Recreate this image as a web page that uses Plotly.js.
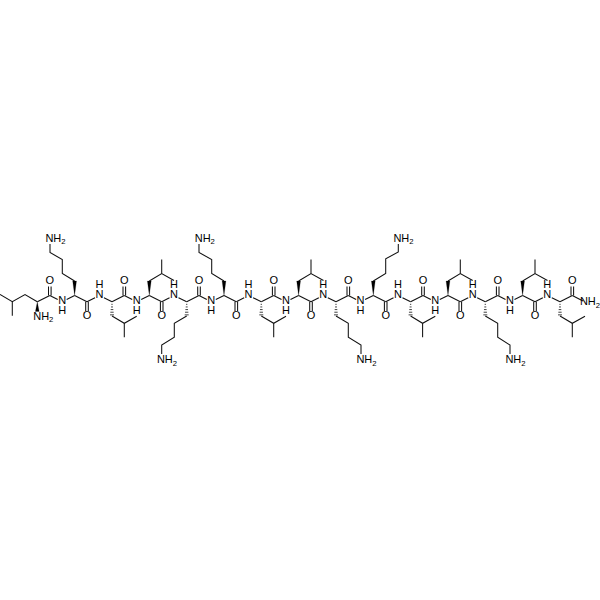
<!DOCTYPE html>
<html>
<head>
<meta charset="utf-8">
<script src="https://cdn.plot.ly/plotly-3.0.1.min.js"></script>
<style>html,body{margin:0;padding:0;background:#fff}</style>
</head>
<body>
<div id="chart" style="width:600px;height:600px"></div>
<script>
// Atom positions (image pixels).
const backboneX = [37.3,49.8,62.2,74.6,87,99.5,112,124.3,136.7,149.3,161.7,174,186.7,199,211.3,224,236.3,248.6,261.3,273.7,286,298.6,311,323.3,336,348.3,360.6,373.3,385.7,398,410.6,423,435.3,448,460.3,472.7,485.3,497.7,510,522.6,535,547.3,560,572.3,583];
const backboneY = [301.7,295.5,301.7,295.5,301.7,295.5,301.7,295.5,301.7,295.5,301.7,295.5,301.7,295.5,301.7,295.5,301.7,295.5,301.7,295.5,301.7,295.5,301.7,295.5,301.7,295.5,301.7,295.5,301.7,295.5,301.7,295.5,301.7,295.5,301.7,295.5,301.7,295.5,301.7,295.5,301.7,295.5,301.7,295.5,301];

const nitrogenX = [62.2,99.5,136.7,174,211.3,248.6,286,323.3,360.6,398,435.3,472.7,510,547.3];
const nitrogenY = [301.7,295.5,301.7,295.5,301.7,295.5,301.7,295.5,301.7,295.5,301.7,295.5,301.7,295.5];
const hydrogenY = [311,285.5,311,285.5,311,285.5,311,285.5,311,285.5,311,285.5,311,285.5];

const carbonylX  = [49.8,87,124.3,161.7,199,236.3,273.7,311,348.3,385.7,423,460.3,497.7,535,572.3];
const carbonylY  = [295.5,301.7,295.5,301.7,295.5,301.7,295.5,301.7,295.5,301.7,295.5,301.7,295.5,301.7,295.5];
const oxygenY    = [281,316.5,281,316.5,281,316.5,281,316.5,281,316.5,281,316.5,281,316.5,281];

const alphaX = [37.3,74.6,112,149.3,186.7,224,261.3,298.6,336,373.3,410.6,448,485.3,522.6,560];
const alphaY = [301.7,295.5,301.7,295.5,301.7,295.5,301.7,295.5,301.7,295.5,301.7,295.5,301.7,295.5,301.7];
const stereoEndY = [311.5,281,316,281,316,281,316,281,316,281,316,281,316,281,316];
const stereoKind = ["wedge","wedge","hash","wedge","hash","wedge","hash","wedge","hash","wedge","hash","wedge","hash","wedge","hash"];

const sideChainsX = [
  [37.3,25,12.3,0], [12.3,12.3],
  [74.6,62.3,62.3,50,50],
  [112,124.3,136.7], [124.3,124.3],
  [149.3,161.7,174], [161.7,161.7],
  [186.7,174.3,174.3,161.7,161.7],
  [224,211.7,211.7,199,199],
  [261.3,273.7,286], [273.7,273.7],
  [298.6,311,323.5], [311,311],
  [336,348.3,348.3,361,361],
  [373.3,385.7,385.7,398.3,398.3],
  [410.6,422.6,435.3], [422.6,422.6],
  [448,460.3,472.7], [460.3,460.3],
  [485.3,497.7,497.7,510,510],
  [522.6,535,547.5], [535,535],
  [560,572.3,585], [572.3,572.3]
];
const sideChainsY = [
  [301.7,294.5,301.7,294.5], [301.7,315.7],
  [281,273.5,259.5,252.5,244],
  [316,323.3,316.3], [323.3,337.3],
  [281,273.5,280.5], [273.5,259.5],
  [316,323.3,337.3,345,354],
  [281,273.5,259.5,252.5,244],
  [316,323.3,316.3], [323.3,337.3],
  [281,273.5,280.5], [273.5,259.5],
  [316,323.3,337.3,345,354],
  [281,273.5,258.8,252,244],
  [316,323.3,316.3], [323.3,337.3],
  [281,273.5,280.5], [273.5,259.5],
  [316,323.3,337.3,345,354],
  [281,273.5,280.5], [273.5,259.5],
  [316,323.3,316.3], [323.3,337.3]
];

const amineX = [43.3,55.5,167,204.8,366.5,403.5,515.5,590];
const amineY = [317,239,360.5,239,360.5,239,360.5,302.5];

const labelColor = "#000";
const bondColor = "#111";

// Build the line geometry from the arrays above.
const isNitrogen = (x, y) => nitrogenX.some((nx, i) => Math.abs(nx - x) < .01 && Math.abs(nitrogenY[i] - y) < .01);
const bx = [], by = [];
function seg(x0, y0, x1, y1, t0, t1) {
  const d = Math.hypot(x1 - x0, y1 - y0), ux = (x1 - x0) / d, uy = (y1 - y0) / d;
  bx.push(x0 + ux * t0, x1 - ux * t1, null);
  by.push(y0 + uy * t0, y1 - uy * t1, null);
}
for (let i = 0; i + 1 < backboneX.length; i++) {
  const a = isNitrogen(backboneX[i], backboneY[i]) ? 5 : 0;
  const b = isNitrogen(backboneX[i + 1], backboneY[i + 1]) ? 5 : 0;
  seg(backboneX[i], backboneY[i], backboneX[i + 1], backboneY[i + 1], a, b);
}
sideChainsX.forEach((xs, c) => {
  xs.forEach((x, i) => { bx.push(x); by.push(sideChainsY[c][i]); });
  bx.push(null); by.push(null);
});
carbonylX.forEach((x, i) => {
  const end = oxygenY[i] + (oxygenY[i] < carbonylY[i] ? 5.5 : -5.5);
  [-1.3, 1.3].forEach(o => { bx.push(x + o, x + o, null); by.push(carbonylY[i], end, null); });
});

const wx = [], wy = [], hx = [], hy = [];
alphaX.forEach((x, i) => {
  const y0 = alphaY[i], y1 = stereoEndY[i];
  if (stereoKind[i] === "wedge") {
    wx.push(x, x - 1.9, x + 1.9, x, null);
    wy.push(y0, y1, y1, y0, null);
  } else {
    for (let k = 1; k <= 5; k++) {
      const f = k / 5, w = 0.3 + 1.7 * f;
      hx.push(x - w, x + w, null);
      hy.push(y0 + (y1 - y0) * (f * 0.92), y0 + (y1 - y0) * (f * 0.92), null);
    }
  }
});

const textTrace = (x, y, text, size) => ({
  type: "scatter", mode: "text", x, y, text,
  textposition: "middle center",
  textfont: { family: "Liberation Sans, Arial, sans-serif", size, color: labelColor },
  hoverinfo: "skip", showlegend: false
});

const data = [
  { type: "scatter", mode: "lines", x: bx, y: by, line: { color: bondColor, width: 1.05 }, hoverinfo: "skip", showlegend: false },
  { type: "scatter", mode: "lines", x: hx, y: hy, line: { color: bondColor, width: 0.8 }, hoverinfo: "skip", showlegend: false },
  { type: "scatter", mode: "lines", x: wx, y: wy, fill: "toself", fillcolor: "#000", line: { color: "#000", width: 0.2 }, hoverinfo: "skip", showlegend: false },
  textTrace(nitrogenX, nitrogenY, nitrogenX.map(() => "N"), 11),
  textTrace(nitrogenX, hydrogenY, nitrogenX.map(() => "H"), 11),
  textTrace(carbonylX, oxygenY, carbonylX.map(() => "O"), 11),
  textTrace(amineX, amineY, amineX.map(() => "NH<sub>2</sub>"), 11)
];

const layout = {
  width: 600, height: 600,
  margin: { l: 0, r: 0, t: 0, b: 0 },
  paper_bgcolor: "#fff", plot_bgcolor: "#fff",
  showlegend: false, hovermode: false,
  xaxis: { range: [0, 600], visible: false, fixedrange: true },
  yaxis: { range: [600, 0], visible: false, fixedrange: true }
};
Plotly.newPlot("chart", data, layout, { displayModeBar: false, staticPlot: true });
</script>
</body>
</html>
